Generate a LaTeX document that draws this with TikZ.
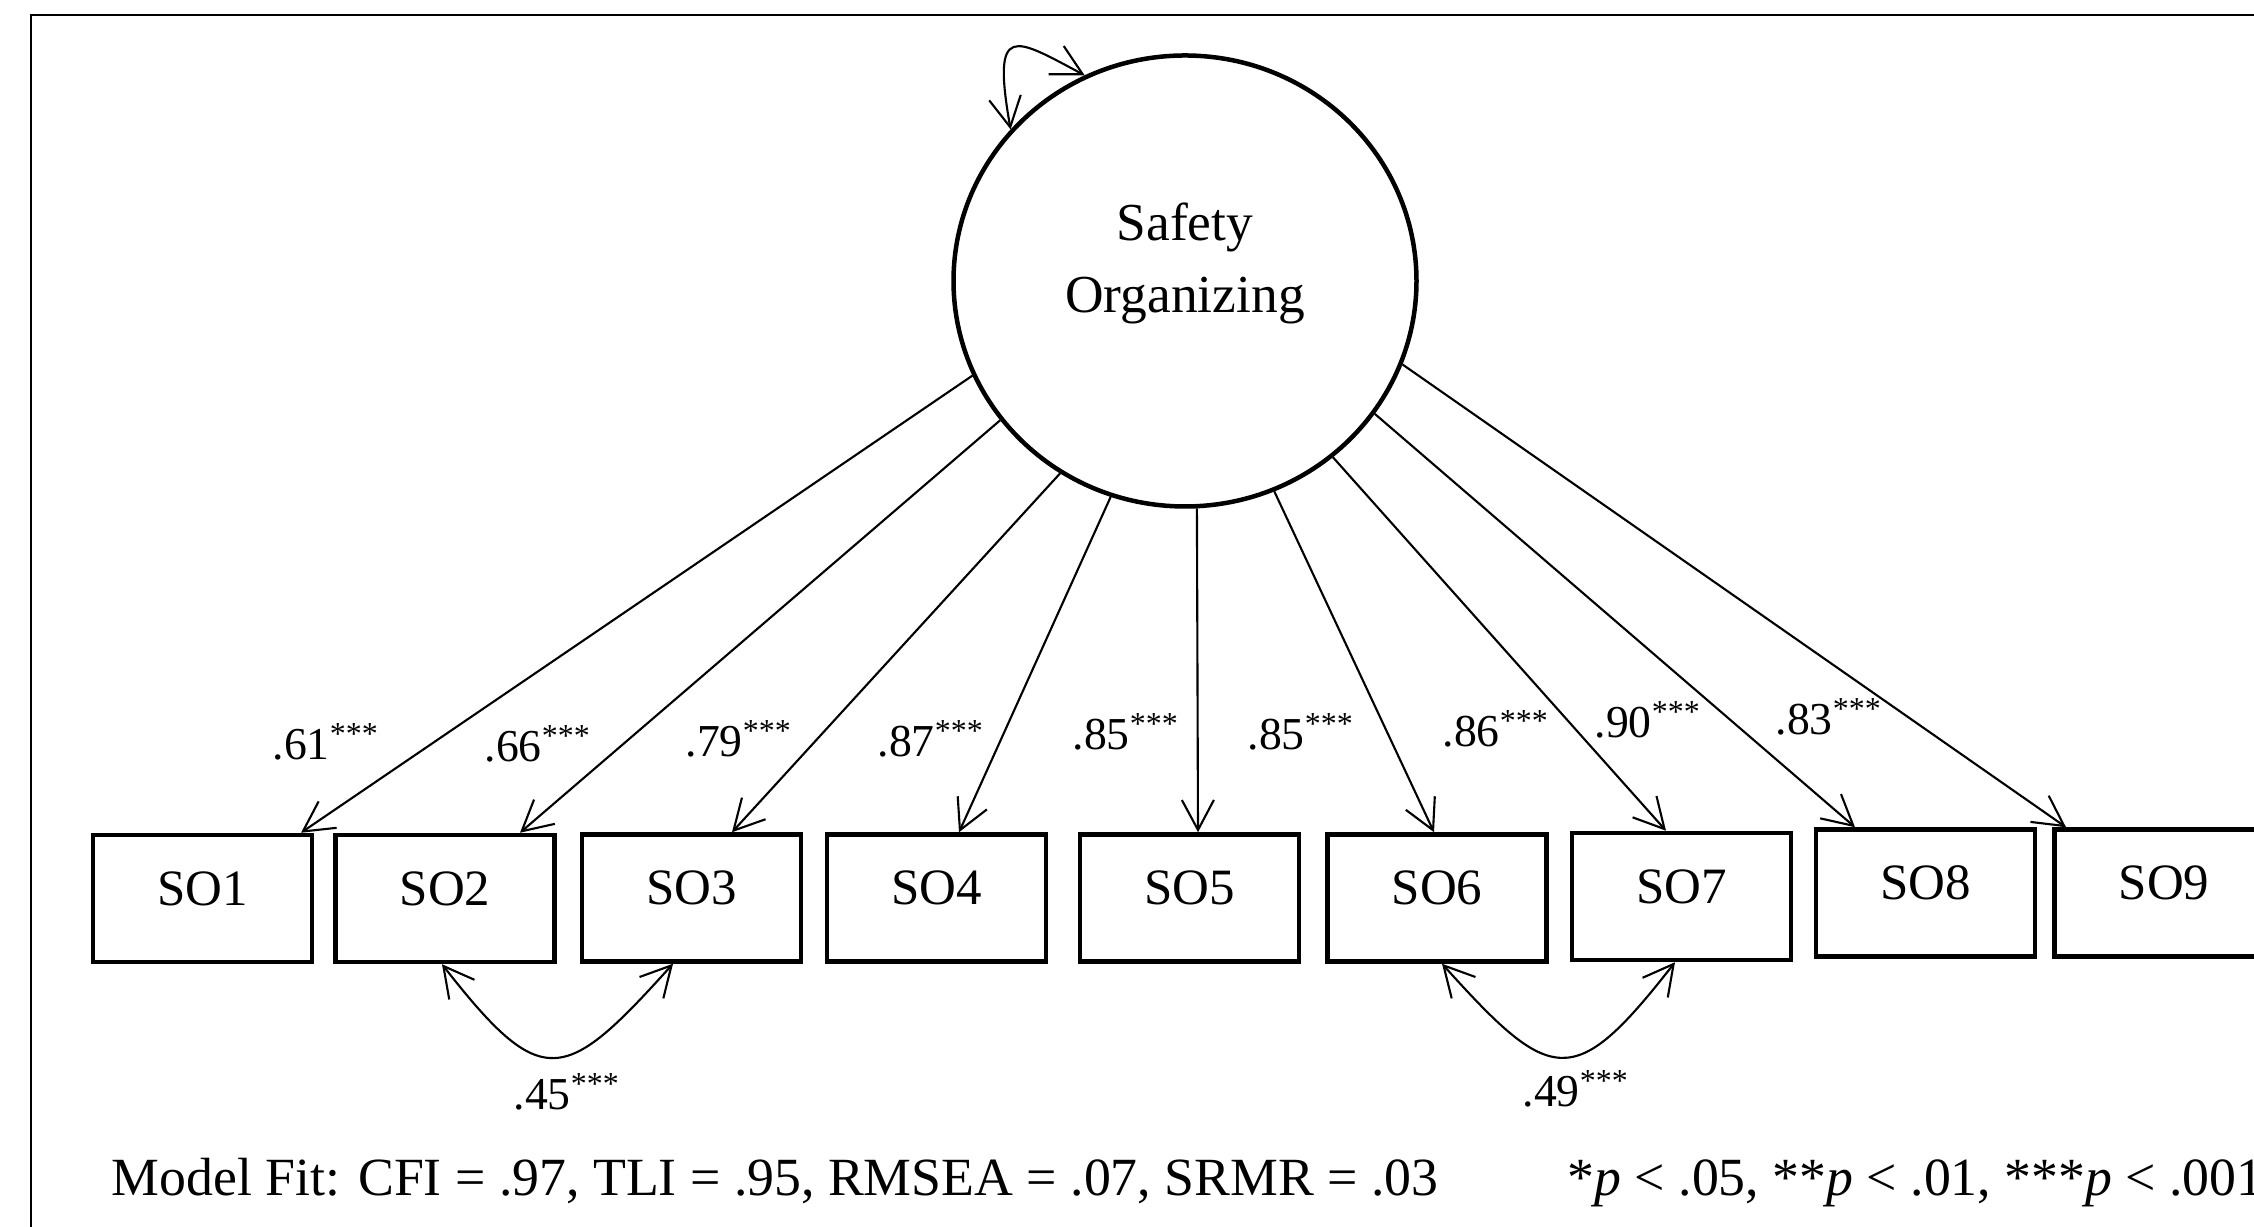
\documentclass[tikz,border=0pt]{standalone}
\usepackage{fontspec}
\setmainfont{Liberation Serif}
\usetikzlibrary{arrows.meta,shapes.geometric}

\begin{document}
\begin{tikzpicture}[x=1cm,y=1cm,
  latent/.style={draw, ellipse, line width=0.045cm, minimum width=4.63cm, minimum height=4.51cm, inner sep=0pt},
  obs/.style={draw, rectangle, line width=0.045cm, minimum width=2.19cm, minimum height=1.27cm, inner sep=0pt, text height=0.35cm, text depth=0.21cm, font=\fontsize{14.5}{17}\selectfont},
  load/.style={-{Straight Barb[length=0.3cm,width=0.32cm]}, line width=0.6pt},
  cov/.style={{Straight Barb[length=0.3cm,width=0.32cm]}-{Straight Barb[length=0.3cm,width=0.32cm]}, line width=0.6pt},
  coef/.style={anchor=base west, inner sep=0pt, font=\fontsize{13}{15}\selectfont},
  note/.style={anchor=base west, inner sep=0pt, font=\fontsize{15.3}{18}\selectfont}]
\useasboundingbox (0,0) rectangle (22.54,12.27);
\draw[line width=0.6pt] (0.31,0) -- (0.31,12.12) -- (22.54,12.12);
\node[latent] (so) at (11.85,9.46) {};
\node[align=center, inner sep=0pt, font=\fontsize{15.2}{20.5}\selectfont] (sotext) at (11.85,9.635) {Safety\\Organizing};
\foreach \i/\x/\y in {1/2.025/3.285,2/4.45/3.285,3/6.915/3.29,4/9.365/3.29,5/11.895/3.29,6/14.37/3.29,7/16.815/3.305,8/19.255/3.34,9/21.64/3.34}
  \node[obs] (b\i) at (\x,\y) {SO\i};
\foreach \i/\a/\dx in {1/204/0.985,2/217/0.75,3/237/0.405,4/251/0.225,5/273/0.085,6/293/-0.03,7/310/-0.155,8/325/-0.705,9/339/-0.98}
  \draw[load] (so.\a) -- ([xshift=\dx cm]b\i.north);
\foreach \i/\x/\y/\v in {1/2.72/4.67/61,2/4.84/4.65/66,3/6.85/4.70/79,4/8.77/4.70/87,5/10.72/4.77/85,6/12.47/4.77/85,7/14.42/4.80/86,8/15.94/4.89/90,9/17.75/4.92/83}
  \node[coef] (l\i) at (\x,\y) {.\v\textsuperscript{***}};
\draw[cov] (so.139) .. controls +(100:1.1) and +(152:0.8) .. (so.116);
\draw[cov] ([xshift=-0.03cm]b2.south) to[out=-52,in=-132,looseness=1.8] ([xshift=-0.185cm]b3.south);
\draw[cov] ([xshift=0.05cm]b6.south) to[out=-48,in=-128,looseness=1.8] ([xshift=-0.065cm]b7.south);
\node[coef] (c1) at (5.13,1.17) {.45\textsuperscript{***}};
\node[coef] (c2) at (15.22,1.20) {.49\textsuperscript{***}};
\node[note] (fit) at (1.11,0.31) {Model Fit: CFI = .97, TLI = .95, RMSEA = .07, SRMR = .03};
\node[note] (sig) at (15.67,0.31) {*\textit{p} < .05, **\textit{p} < .01, ***\textit{p} < .001};
\end{tikzpicture}
\end{document}
